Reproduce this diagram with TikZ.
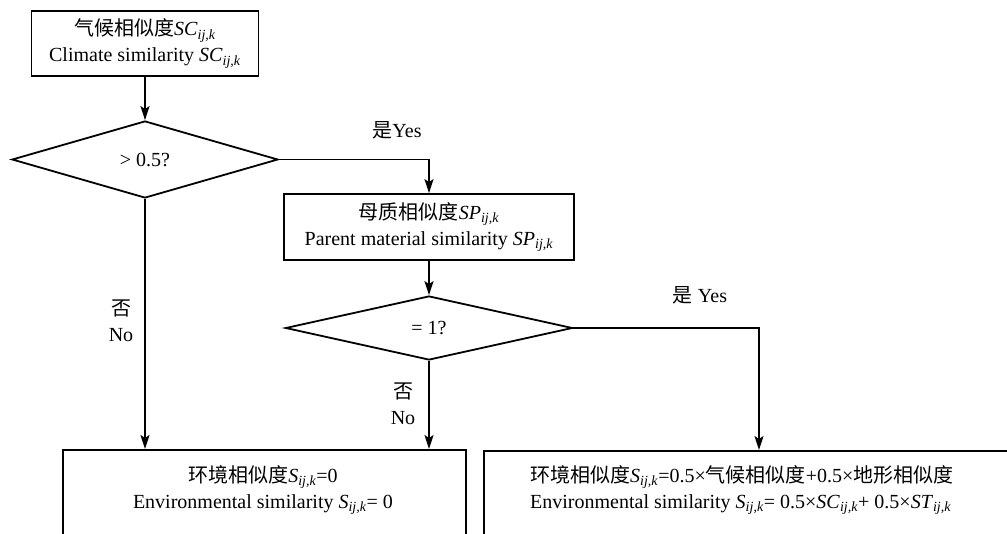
\documentclass[tikz,border=0pt]{standalone}
\usepackage{fontspec}
\setmainfont{Liberation Serif}
\newfontfamily\cjk{Noto Sans CJK SC}
\usetikzlibrary{shapes.geometric,arrows.meta}
\newcommand\zh[1]{{\cjk #1}}
\newcommand\sbk[1]{\textsubscript{\textit{#1}}}
\begin{document}
\begin{tikzpicture}[x=1pt,y=-1pt,
  every node/.style={font=\fontsize{20}{26}\selectfont},
  box/.style={draw, line width=1.8pt, inner sep=0pt, align=center},
  dec/.style={draw, diamond, line width=1.8pt, inner sep=0pt, aspect=3.5},
  arr/.style={line width=1.8pt, -{Stealth[length=14pt,width=9pt,inset=3pt]}},
  txt/.style={inner sep=0pt},
  lbl/.style={align=center, inner sep=0pt}]
\useasboundingbox (0,0) rectangle (1007,533);
% boxes and decisions
\node[box, minimum width=227pt, minimum height=65pt] (clim) at (145,43.5)
  {\zh{气候相似度}\textit{SC}\sbk{ij,k}\\Climate similarity \textit{SC}\sbk{ij,k}};
\node[dec, minimum width=266pt, minimum height=77pt] (d1) at (145,159.5) {> 0.5?};
\node[box, minimum width=290pt, minimum height=66pt] (pm) at (429,227)
  {\zh{母质相似度}\textit{SP}\sbk{ij,k}\\Parent material similarity \textit{SP}\sbk{ij,k}};
\node[dec, minimum width=287pt, minimum height=64pt] (d2) at (429,328) {= 1?};
\node[box, minimum width=403pt, minimum height=150pt, anchor=north west] (zero) at (62,449) {};
\node[txt, align=center] (zerot) at (263,490)
  {\zh{环境相似度}\textit{S}\sbk{ij,k}=0\\Environmental similarity \textit{S}\sbk{ij,k}= 0};
\node[box, minimum width=600pt, minimum height=150pt, anchor=north west] (sum) at (483,450) {};
\node[txt, align=left, anchor=west] (sumt) at (530,490)
  {\zh{环境相似度}\textit{S}\sbk{ij,k}=0.5×\zh{气候相似度}+0.5×\zh{地形相似度}\\Environmental similarity \textit{S}\sbk{ij,k}= 0.5×\textit{SC}\sbk{ij,k}+ 0.5×\textit{ST}\sbk{ij,k}};
\coordinate (sumin) at (759,450);
% labels
\node[lbl] (yes1) at (397,130) {\zh{是}Yes};
\node[lbl] (yes2) at (700,295) {\zh{是} Yes};
\node[lbl] (no1) at (121,321) {\zh{否}\\No};
\node[lbl] (no2) at (403,403.5) {\zh{否}\\No};
% connectors
\draw[arr] (clim) -- (d1);
\draw[arr] (d1.east) -| (pm.north);
\draw[arr] (pm) -- (d2);
\draw[arr] (d2.east) -| (sumin);
\draw[arr] (d1.south) -- (d1.south |- zero.north);
\draw[arr] (d2.south) -- (d2.south |- zero.north);
\end{tikzpicture}
\end{document}
